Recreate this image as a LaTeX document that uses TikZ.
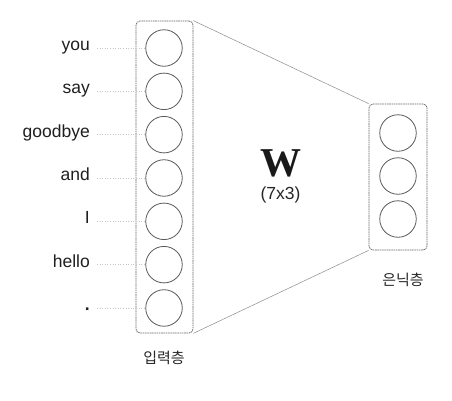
\documentclass[tikz,border=0pt]{standalone}
\usepackage{fontspec}
\setmainfont{Liberation Sans}
\newfontfamily\krfont{Noto Sans CJK KR}
\newfontfamily\wfont{Liberation Serif}
\begin{document}
\begin{tikzpicture}[x=1pt,y=-1pt,
  layerbox/.style={draw=black!60, dash pattern=on 1.6pt off 0.7pt, line width=0.7pt, rounded corners=4pt, inner sep=0pt},
  unit/.style={circle, draw=black!65, line width=0.8pt, minimum size=36.5pt, inner sep=0pt},
  word/.style={anchor=east, inner sep=0pt, text height=1ex, text depth=0pt, font=\fontsize{17.5}{20}\selectfont, text=black!88},
  dotline/.style={draw=black!22, dotted, line width=0.6pt},
  fan/.style={draw=black!45, line width=0.5pt},
  kor/.style={font=\krfont\fontsize{15}{18}\selectfont, text=black!85}
]
\useasboundingbox (0,0) rectangle (452,400);
% input layer
\node[layerbox, minimum width=57pt, minimum height=312pt] (in) at (164.5,177) {};
\foreach \i/\w [evaluate=\i as \y using 48+(\i-1)*43.33] in {1/you,2/say,3/goodbye,4/and,5/I,6/hello,7/\textbf{.}} {
  \node[unit] (c\i) at (164,\y) {};
  \node[word] (w\i) at (90,\y) {\w};
  \draw[dotline] ([xshift=7pt]w\i.east) -- (c\i.west);
}
% hidden layer
\node[layerbox, minimum width=58pt, minimum height=146pt] (hid) at (398,177) {};
\node[unit] (h1) at (398,133) {};
\node[unit] (h2) at (398,176) {};
\node[unit] (h3) at (398,219) {};
% fan lines
\draw[fan] (in.north east) -- (hid.north west);
\draw[fan] (in.south east) -- (hid.south west);
% weight label
\node[font=\wfont\bfseries\fontsize{41}{41}\selectfont, text=black!90, inner sep=0pt] (W) at (281,163) {W};
\node[font=\fontsize{17.5}{20}\selectfont, text=black!85, inner sep=0pt] (dim) at (280.5,195) {(7x3)};
% layer names
\node[kor] (inlab) at (164,358) {입력층};
\node[kor] (hidlab) at (403,280) {은닉층};
\end{tikzpicture}
\end{document}
